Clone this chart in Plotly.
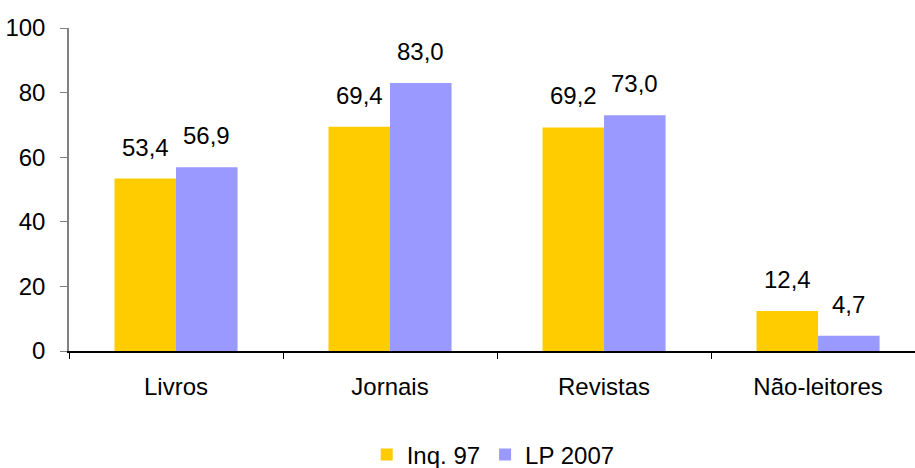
import plotly.graph_objects as go

categories = ["Livros", "Jornais", "Revistas", "Não-leitores"]
inq_97 = [53.4, 69.4, 69.2, 12.4]
lp_2007 = [56.9, 83.0, 73.0, 4.7]
y_ticks = [0, 20, 40, 60, 80, 100]

YELLOW = "#FFCC00"
LAVENDER = "#9999FF"
FONT = "Liberation Sans, Arial, sans-serif"
SIZE = 24
BARGAP = 0.425

fig = go.Figure()
fig.add_trace(go.Bar(name="Inq. 97", x=categories, y=inq_97,
                     marker=dict(color=YELLOW, line=dict(width=0))))
fig.add_trace(go.Bar(name="LP 2007", x=categories, y=lp_2007,
                     marker=dict(color=LAVENDER, line=dict(width=0))))

# value labels above each bar, shifted to the bar centre within the group
half = (1 - BARGAP) / 4
for series, sign in ((inq_97, -1), (lp_2007, 1)):
    for i, v in enumerate(series):
        fig.add_annotation(x=i + sign * half, y=v, xref="x", yref="y",
                           text=f"{v:.1f}".replace(".", ","),
                           showarrow=False, yanchor="bottom", yshift=16,
                           font=dict(family=FONT, size=SIZE, color="black"))

fig.update_layout(
    width=915, height=468,
    margin=dict(l=69, r=0, t=28, b=117),
    paper_bgcolor="white", plot_bgcolor="white",
    barmode="group", bargap=BARGAP, bargroupgap=0,
    font=dict(family=FONT, size=SIZE, color="black"),
    showlegend=True,
    legend=dict(orientation="h", xref="container", yref="container",
                x=0.539, xanchor="center", y=0.028, yanchor="middle",
                font=dict(family=FONT, size=SIZE, color="black"),
                itemwidth=30, tracegroupgap=0),
)
fig.update_xaxes(
    type="category", range=[-0.5, 3.453],
    showline=True, linecolor="black", linewidth=1.5,
    ticks="outside", tickson="boundaries", ticklen=6, tickcolor="black",
    ticklabelstandoff=13, showgrid=False, zeroline=False,
    tickfont=dict(family=FONT, size=SIZE, color="black"),
)
fig.update_yaxes(
    range=[0, 100], tickvals=y_ticks,
    showline=True, linecolor="#808080", linewidth=1.5,
    ticks="outside", ticklen=7, tickcolor="#808080",
    ticklabelstandoff=10, showgrid=False, zeroline=False,
    tickfont=dict(family=FONT, size=SIZE, color="black"),
)

fig.write_html("out.html")
